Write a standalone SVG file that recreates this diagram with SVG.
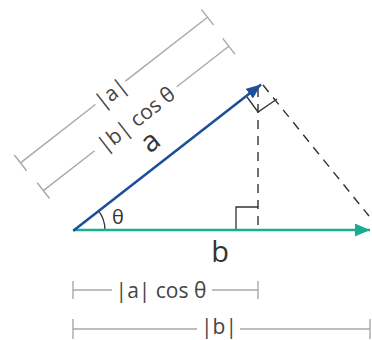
<svg xmlns="http://www.w3.org/2000/svg" width="372" height="340" viewBox="0 0 372 340">
<style>
.dim{stroke:#a8a8a8;stroke-width:1.4;fill:none}
.dash{stroke:#333;stroke-width:1.4;fill:none;stroke-dasharray:9 7}
.mark{stroke:#333;stroke-width:1.3;fill:none}
.dt{font-family:"Open Sans","Noto Sans","Liberation Sans",sans-serif;font-size:21px;fill:#444;font-weight:400}
.lbl{font-family:"Open Sans","Noto Sans","Liberation Sans",sans-serif;font-size:29px;fill:#333;font-weight:400}
.th{font-family:"Open Sans","Noto Sans","Liberation Sans",sans-serif;font-size:20px;fill:#333;font-weight:400}
</style>
<defs>
<marker id="ha" markerWidth="15" markerHeight="12" refX="15" refY="6" orient="auto" markerUnits="userSpaceOnUse"><path d="M0,0 L15,6 L0,12 Z" fill="#1d4f9a"/></marker>
<marker id="hb" markerWidth="15" markerHeight="13" refX="15" refY="6.5" orient="auto" markerUnits="userSpaceOnUse"><path d="M0,0 L15,6.5 L0,13 Z" fill="#1aad92"/></marker>
</defs>
<g id="connectors">
<line class="dash" x1="258" y1="88" x2="258" y2="230"/>
<line class="dash" x1="263" y1="85" x2="369" y2="216"/>
<polyline class="mark" points="236,230 236,207 258,207"/>
<polyline class="mark" points="247,97 258,112 277,99"/>
<path d="M105,230 A32,32 0 0 0 98.2,210.3" class="mark" stroke-width="1.6"/>
<line x1="73" y1="230" x2="370" y2="230" stroke="#1aad92" stroke-width="2.6" marker-end="url(#hb)"/>
<g transform="translate(73.3,230.7) rotate(-37.9)">
<line x1="0" y1="0" x2="238" y2="0" stroke="#1d4f9a" stroke-width="2.6" marker-end="url(#ha)"/>
</g>
</g>
<g id="dim-a" transform="translate(73.3,230.7) rotate(-37.9)">
<path class="dim" d="M0,-86 H95 M133,-86 H237 M0,-96 V-76 M237,-96 V-76"/>
<text class="dt" x="114" y="-86" text-anchor="middle" dominant-baseline="central">|a|</text>
</g>
<g id="dim-bcos" transform="translate(73.3,230.7) rotate(-37.9)">
<path class="dim" d="M1,-50 H66 M170,-50 H236 M1,-60 V-40 M236,-60 V-40"/>
<text class="dt" x="118" y="-50" text-anchor="middle" dominant-baseline="central">|b| cos θ</text>
</g>
<g id="label-a" transform="translate(73.3,230.7) rotate(-37.9)">
<text class="lbl" x="115.5" y="-13.5" text-anchor="middle">a</text>
</g>
<g id="label-theta">
<text class="th" x="118" y="223.5" text-anchor="middle">θ</text>
</g>
<g id="label-b">
<text class="lbl" x="220" y="262" text-anchor="middle">b</text>
</g>
<g id="dim-acos">
<path class="dim" d="M73,290 H112 M212,290 H258 M73,281 V299 M258,281 V299"/>
<text class="dt" x="161" y="290" text-anchor="middle" dominant-baseline="central">|a| cos θ</text>
</g>
<g id="dim-b">
<path class="dim" d="M73,329 H197 M240,329 H370 M73,319 V339 M370,319 V339"/>
<text class="dt" x="219" y="326" text-anchor="middle" dominant-baseline="central">|b|</text>
</g>
</svg>
